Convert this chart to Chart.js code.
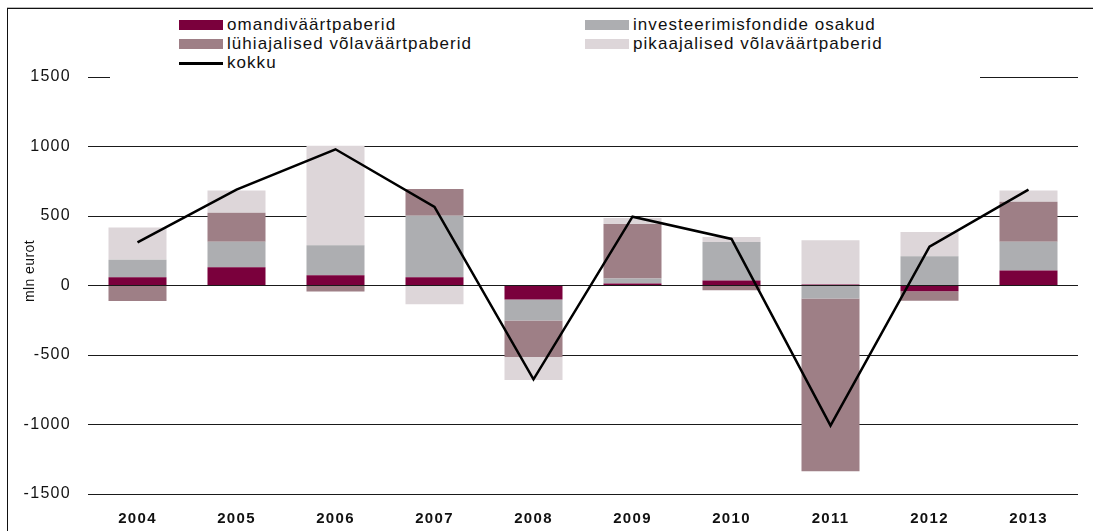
<!DOCTYPE html>
<html>
<head>
<meta charset="utf-8">
<script src="https://cdn.jsdelivr.net/npm/chart.js@4.4.1/dist/chart.umd.min.js"></script>
<style>
  html, body { margin: 0; padding: 0; background: #fff; }
  #wrap { position: relative; width: 1093px; height: 531px; overflow: hidden; }
  #c { position: absolute; left: 0; top: 0; }
  #frameTop { position: absolute; left: 7px; top: 7px; width: 1086px; height: 0; border-top: 1px solid #bbb; border-bottom: 1px solid #111; }
  #frameLeft { position: absolute; left: 7px; top: 8px; width: 0; height: 523px; border-left: 1.5px solid #111; }
  #legend { position: absolute; left: 110px; top: 10px; width: 870px; height: 69px; background: #fff;
            font-family: "Liberation Sans", Arial, sans-serif; font-size: 17px; letter-spacing: 1.05px; color: #111; }
  .item { position: absolute; height: 20px; line-height: 20px; white-space: nowrap; }
  .sw { position: absolute; left: 0; top: 5px; width: 44px; height: 10px; }
  .ln { position: absolute; left: 0; top: 9px; width: 44px; height: 3px; background: #000; }
  .tx { position: absolute; left: 48px; top: 0; }
</style>
</head>
<body>
<div id="wrap">
  <canvas id="c" width="1093" height="531"></canvas>
  <div id="legend"></div>
  <div id="frameTop"></div>
  <div id="frameLeft"></div>
</div>
<script>
const categories = ["2004","2005","2006","2007","2008","2009","2010","2011","2012","2013"];
const omandivaartpaberid = [60, 131, 74, 60, -100, 14, 36, 8, -41, 108];
const investeerimisfondid = [126, 184, 215, 442, -151, 36, 277, -93, 210, 207];
const luhiajalised = [-112, 208, -43, 193, -263, 392, -34, -1243, -69, 287];
const pikaajalised = [232, 160, 717, -134, -165, 43, 36, 317, 175, 81];
const kokku = [310, 690, 980, 565, -675, 495, 335, -1008, 280, 690];
const yTicks = [-1500, -1000, -500, 0, 500, 1000, 1500];

const seriesNames = ["omandiväärtpaberid", "investeerimisfondide osakud", "lühiajalised võlaväärtpaberid", "pikaajalised võlaväärtpaberid", "kokku"];
const colors = ["#7a003c", "#adaeb1", "#9e7f86", "#ddd6d9", "#000000"];

// HTML legend (two columns)
const legendLayout = [
  {i:0, x:69, y:15}, {i:1, x:475, y:15},
  {i:2, x:69, y:34}, {i:3, x:475, y:34},
  {i:4, x:69, y:53}
];
const leg = document.getElementById('legend');
legendLayout.forEach(p => {
  const d = document.createElement('div');
  d.className = 'item';
  d.style.left = p.x + 'px';
  d.style.top = (p.y - 10) + 'px';
  const s = document.createElement('div');
  if (p.i === 4) { s.className = 'ln'; } else { s.className = 'sw'; s.style.background = colors[p.i]; }
  const t = document.createElement('div');
  t.className = 'tx';
  t.textContent = seriesNames[p.i];
  d.appendChild(s); d.appendChild(t);
  leg.appendChild(d);
});

const SPACING = '1.3px';
const spacingPlugin = {
  id: 'spacing',
  beforeUpdate(chart) { chart.ctx.letterSpacing = SPACING; },
  beforeLayout(chart) { chart.ctx.letterSpacing = SPACING; },
  beforeDraw(chart) { chart.ctx.letterSpacing = SPACING; }
};

const yTitlePlugin = {
  id: 'yTitle',
  afterDraw(chart) {
    const ctx = chart.ctx;
    ctx.save();
    ctx.letterSpacing = '0.4px';
    ctx.translate(30, 271);
    ctx.rotate(-Math.PI / 2);
    ctx.font = '14px "Liberation Sans", Arial, sans-serif';
    ctx.fillStyle = '#111';
    ctx.textAlign = 'center';
    ctx.textBaseline = 'middle';
    ctx.fillText('mln eurot', 0, 0);
    ctx.restore();
  }
};

const barDs = (i, data) => ({
  type: 'bar',
  label: seriesNames[i],
  data: data,
  backgroundColor: colors[i],
  borderWidth: 0,
  stack: 'bars',
  barPercentage: 0.586,
  categoryPercentage: 1.0,
  order: 1
});

new Chart(document.getElementById('c'), {
  data: {
    labels: categories,
    datasets: [
      {
        type: 'line',
        label: seriesNames[4],
        data: kokku,
        borderColor: '#000',
        borderWidth: 2.5,
        pointRadius: 0,
        pointHoverRadius: 0,
        fill: false,
        tension: 0,
        stack: 'line',
        order: 0
      },
      barDs(0, omandivaartpaberid),
      barDs(1, investeerimisfondid),
      barDs(2, luhiajalised),
      barDs(3, pikaajalised)
    ]
  },
  options: {
    responsive: false,
    animation: false,
    events: [],
    layout: { padding: { left: 0, right: 15, top: 77, bottom: 0 } },
    plugins: { legend: { display: false }, tooltip: { enabled: false } },
    scales: {
      x: {
        stacked: true,
        grid: { display: false, drawTicks: false },
        border: { display: false },
        ticks: {
          padding: 16,
          color: '#111',
          font: { family: '"Liberation Sans", Arial, sans-serif', size: 15, weight: 'bold' }
        },
        afterFit(scale) { scale.height = 37; }
      },
      y: {
        stacked: true,
        min: -1500,
        max: 1500,
        afterBuildTicks(scale) { scale.ticks = yTicks.map(v => ({ value: v })); },
        grid: { color: '#1a1a1a', lineWidth: 1, drawTicks: false },
        border: { display: false },
        ticks: {
          padding: 17,
          color: '#111',
          font: { family: '"Liberation Sans", Arial, sans-serif', size: 16 },
          callback: (v) => String(v)
        },
        afterFit(scale) { scale.width = 88; }
      }
    }
  },
  plugins: [spacingPlugin, yTitlePlugin]
});
</script>
</body>
</html>
